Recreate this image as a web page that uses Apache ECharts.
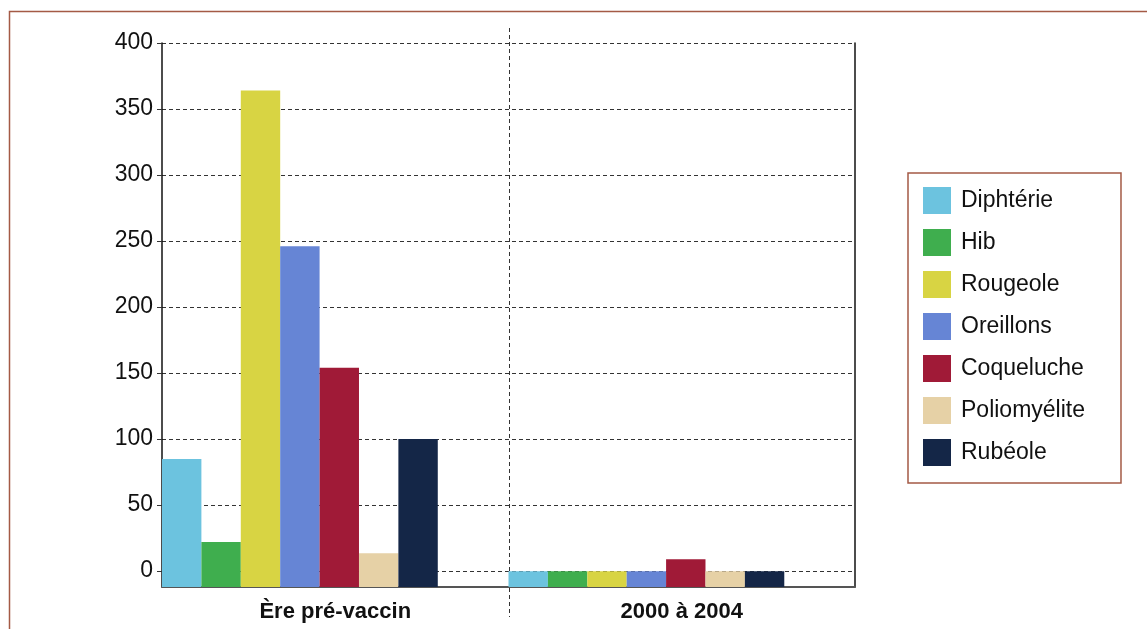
<!DOCTYPE html>
<html>
<head>
<meta charset="utf-8">
<script src="https://cdn.jsdelivr.net/npm/echarts@6/dist/echarts.min.js"></script>
<style>
html,body{margin:0;padding:0;background:#fff;}
#chart{width:1147px;height:629px;}
</style>
</head>
<body>
<div id="chart"></div>
<script>
const categories = ['Ère pré-vaccin', '2000 à 2004'];
const seriesNames = ['Diphtérie', 'Hib', 'Rougeole', 'Oreillons', 'Coqueluche', 'Poliomyélite', 'Rubéole'];
const diphterie = [85, 0];
const hib = [22, 0];
const rougeole = [364, 0];
const oreillons = [246, 0];
const coqueluche = [154, 9];
const polio = [13.5, 0];
const rubeole = [100, 0];
const seriesValues = [diphterie, hib, rougeole, oreillons, coqueluche, polio, rubeole];
const colors = ['#6cc3df', '#3fae4e', '#d8d443', '#6685d5', '#a01a37', '#e6d1a6', '#142647'];
const yMin = -12, yMax = 400;

const FONT = '"Liberation Sans", Arial, Helvetica, sans-serif';
const chart = echarts.init(document.getElementById('chart'), null, {renderer: 'canvas'});

const series = seriesNames.map((n, i) => ({
  name: n,
  type: 'bar',
  data: seriesValues[i],
  barWidth: '11.37%',
  barGap: 0,
  barCategoryGap: 0,
  itemStyle: {color: colors[i]},
  emphasis: {disabled: true},
  animation: false
}));
series.push({
  name: 'spacer',
  type: 'bar',
  data: [null, null],
  barWidth: '20.41%',
  barGap: 0,
  barCategoryGap: 0,
  silent: true,
  animation: false
});

chart.setOption({
  animation: false,
  textStyle: {fontFamily: FONT},
  grid: {left: 162, right: 292, top: 43, bottom: 42, containLabel: false},
  legend: {
    data: seriesNames,
    orient: 'vertical',
    left: 908,
    top: 173,
    padding: [14, 36, 17, 15],
    itemWidth: 28,
    itemHeight: 27,
    itemGap: 15,
    icon: 'rect',
    borderColor: '#a45a45',
    borderWidth: 1.5,
    borderRadius: 0,
    selectedMode: false,
    textStyle: {fontSize: 23, color: '#111', fontFamily: FONT, padding: [0, 0, 0, 5]}
  },
  xAxis: {
    type: 'category',
    data: categories,
    axisLine: {onZero: false, lineStyle: {color: '#555', width: 2}},
    axisTick: {show: false},
    axisLabel: {fontSize: 22, fontWeight: 'bold', color: '#111', margin: 14, fontFamily: FONT},
    splitLine: {show: false}
  },
  yAxis: [{
    type: 'value',
    min: yMin,
    max: yMax,
    startValue: yMin,
    splitNumber: 8,
    axisLine: {show: true, lineStyle: {color: '#111', width: 1.5}},
    axisTick: {show: true, length: 5, lineStyle: {color: '#333'}},
    axisLabel: {fontSize: 23, color: '#111', margin: 9, showMinLabel: false, fontFamily: FONT},
    splitLine: {show: true, lineStyle: {color: '#333', type: [4, 3], width: 1}}
  }, {
    type: 'value',
    position: 'right',
    min: yMin,
    max: yMax,
    splitNumber: 8,
    axisLine: {show: true, lineStyle: {color: '#111', width: 1.5}},
    axisTick: {show: false},
    axisLabel: {show: false},
    splitLine: {show: false}
  }],
  series: series
});

// outer frame and extended category divider
const c0 = chart.convertToPixel({xAxisIndex: 0}, categories[0]);
const c1 = chart.convertToPixel({xAxisIndex: 0}, categories[1]);
const divX = Math.round((c0 + c1) / 2) + 0.5;
const yTop = chart.convertToPixel({yAxisIndex: 0}, yMax);
chart.setOption({
  graphic: [
    {type: 'rect', shape: {x: 9.5, y: 11.5, width: 1300, height: 800}, style: {fill: null, stroke: '#a45a45', lineWidth: 1.5}, silent: true},
    {type: 'line', shape: {x1: divX, y1: yTop - 15, x2: divX, y2: 617}, style: {stroke: '#333', lineWidth: 1, lineDash: [4, 3]}, silent: true}
  ]
});
</script>
</body>
</html>
